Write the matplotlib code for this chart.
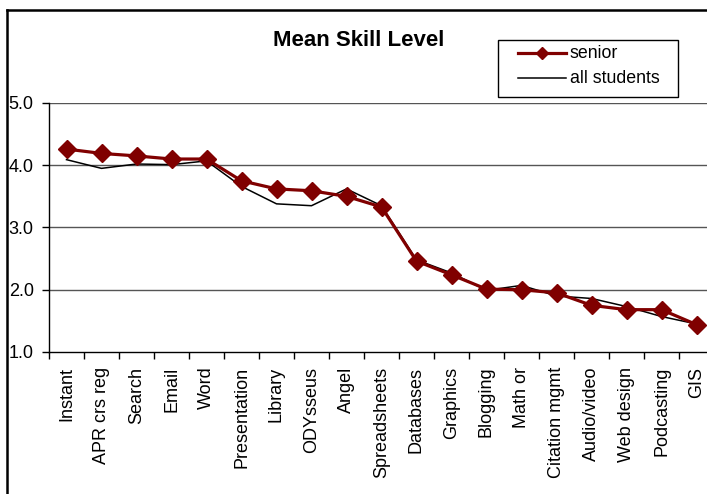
import matplotlib
matplotlib.use("Agg")
import matplotlib.pyplot as plt
from matplotlib.lines import Line2D
from matplotlib.patches import Rectangle
import numpy as np

plt.rcParams['font.family'] = ['Liberation Sans', 'DejaVu Sans']

categories = ["Instant", "APR crs reg", "Search", "Email", "Word", "Presentation",
              "Library", "ODYsseus", "Angel", "Spreadsheets", "Databases", "Graphics",
              "Blogging", "Math or", "Citation mgmt", "Audio/video", "Web design",
              "Podcasting", "GIS"]
senior = [4.26, 4.19, 4.15, 4.10, 4.10, 3.75, 3.62, 3.59, 3.50, 3.33, 2.46, 2.24,
          2.01, 2.00, 1.95, 1.75, 1.68, 1.68, 1.44]
all_students = [4.09, 3.95, 4.02, 4.01, 4.07, 3.66, 3.38, 3.35, 3.62, 3.35, 2.48, 2.27,
                1.99, 2.07, 1.90, 1.86, 1.73, 1.57, 1.45]
y_ticks = [1.0, 2.0, 3.0, 4.0, 5.0]
series_names = ["senior", "all students"]

W, H = 707, 494
fig = plt.figure(figsize=(W / 100, H / 100), dpi=100)


def fx(px):
    return px / W


def fy(py):
    return 1 - py / H


# plot area (extends a little past the right edge of the canvas)
left, right, top, bottom = 49, 714, 103, 352
ax = fig.add_axes([fx(left), fy(bottom), (right - left) / W, (bottom - top) / H])

SENIOR_COLOR = "#800000"
n = len(categories)
x = np.arange(n) + 0.5
ax.plot(x, all_students, color="black", lw=1.1, zorder=3)
ax.plot(x, senior, color=SENIOR_COLOR, lw=2.3, marker="D", ms=8.7,
        markeredgecolor=SENIOR_COLOR, zorder=4)

ax.set_xlim(0, n)
ax.set_ylim(1, 5)

# tick marks between categories, labels at category centres
ax.set_xticks(np.arange(n + 1))
ax.set_xticklabels([])
ax.set_xticks(x, minor=True)
ax.set_xticklabels(categories, minor=True, rotation=90, fontsize=13, va="top")
ax.tick_params(axis="x", which="major", direction="out", length=5, width=1, color="black")
ax.tick_params(axis="x", which="minor", length=0, pad=10.5)

ax.set_yticks(y_ticks)
ax.set_yticklabels([f"{v:.1f}" for v in y_ticks], fontsize=13)
ax.tick_params(axis="y", direction="out", length=5, width=1, pad=6)

for v in y_ticks[1:]:
    ax.axhline(v, color="#555555", lw=1, zorder=1)

for s in ["top", "right"]:
    ax.spines[s].set_visible(False)
ax.spines["left"].set_linewidth(1)
ax.spines["bottom"].set_linewidth(1)

fig.text(fx(359), fy(40), "Mean Skill Level", fontsize=16, fontweight="bold",
         ha="center", va="center")

# legend box
fig.add_artist(Rectangle((fx(498), fy(97)), fx(678) - fx(498), fy(40) - fy(97),
                         transform=fig.transFigure, facecolor="white",
                         edgecolor="black", lw=1, zorder=5))
row_y = [53, 78]
styles = [dict(color=SENIOR_COLOR, lw=2.3, marker="D", ms=6.5,
               markeredgecolor=SENIOR_COLOR, markevery=[1]),
          dict(color="black", lw=1.1)]
for name, ry, st in zip(series_names, row_y, styles):
    fig.add_artist(Line2D([fx(518), fx(542), fx(566)], [fy(ry)] * 3,
                          transform=fig.transFigure, zorder=6, **st))
    fig.text(fx(570), fy(ry), name, fontsize=12.8, ha="left", va="center", zorder=6)

# outer chart frame (left and top edges visible)
fig.add_artist(Line2D([fx(7), fx(7)], [0, fy(10)], transform=fig.transFigure,
                      color="black", lw=1.8))
fig.add_artist(Line2D([fx(7), 1], [fy(10), fy(10)], transform=fig.transFigure,
                      color="black", lw=1.8))

fig.savefig("out.png", dpi=100)
